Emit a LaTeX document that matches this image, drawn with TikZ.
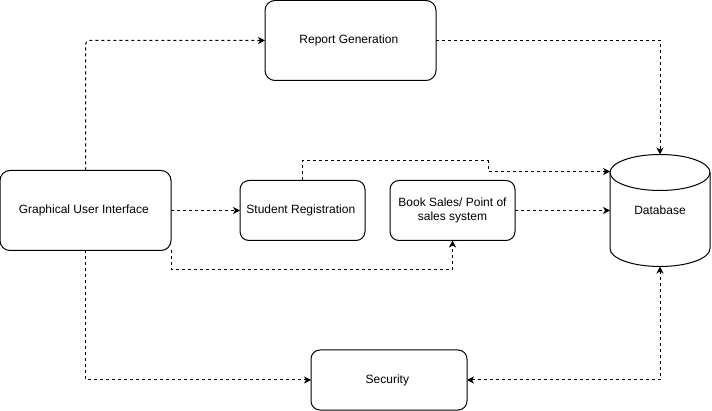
\documentclass[tikz,border=0pt]{standalone}
\usepackage{fontspec}
\setmainfont{Liberation Sans}
\usetikzlibrary{positioning,calc,arrows.meta}

\begin{document}
\begin{tikzpicture}[x=1pt, y=-1pt, font=\fontsize{12}{14}\selectfont,
	node distance = 25pt, >={Stealth[length=7pt, width=7pt, inset=2pt]},
	block/.style = { rectangle, draw=black, line width=1pt, fill=white,
	rounded corners=10pt, outer sep=0pt, align=center },
	flow/.style = { line width=1pt, dash pattern=on 3pt off 3pt, -> } ]

  \useasboundingbox (0,0) rectangle (712,411);

  \node [name=gui, block, minimum height=80pt, minimum width=171pt]
	at (85.5,210.5) { Graphical User Interface };
  \node [name=stud, block, rounded corners=9pt,
	minimum height=60pt, minimum width=125pt, right=69pt of gui]
	{ Student Registration };
  \node [name=book, block, rounded corners=9pt,
	minimum height=60pt, minimum width=125pt, right=of stud]
	{ Book Sales/ Point of\\ sales system };
  \node [name=db, rectangle, outer sep=0pt,
	minimum height=112pt, minimum width=100pt, right=95pt of book]
	{ Database };
  \node [name=report, block, minimum height=80pt, minimum width=171pt]
	at (350.5,40.5) { Report Generation };
  \node [name=security, block, rounded corners=9pt,
	minimum height=60pt, minimum width=156pt]
	at (389,380) { Security };

  % database drum
  \draw [line width=1pt] ($(db.north west)+(0,18)$) -- ($(db.south west)+(0,-18)$)
	arc [start angle=180, end angle=360, x radius=50pt, y radius=18pt]
	-- ($(db.north east)+(0,18)$);
  \draw [line width=1pt] ($(db.north)+(0,18)$) ellipse [x radius=50pt, y radius=18pt];

  % links
  \coordinate (kink) at (488,161);
  \draw [flow, rounded corners=4pt] (gui.north) |- (report.west);
  \draw [flow] (report.east) -| (db.north);
  \draw [flow] (gui.east) -- (stud.west);
  \draw [flow] (stud.north) |- (kink) |- ($(db.west)+(0,-39)$);
  \draw [flow] (gui.south east) -- ++(0,19) -| (book.south);
  \draw [flow] (book.east) -- (db.west);
  \draw [flow] (gui.south) |- (security.west);
  \draw [flow, <->] (security.east) -| (db.south);
\end{tikzpicture}
\end{document}
